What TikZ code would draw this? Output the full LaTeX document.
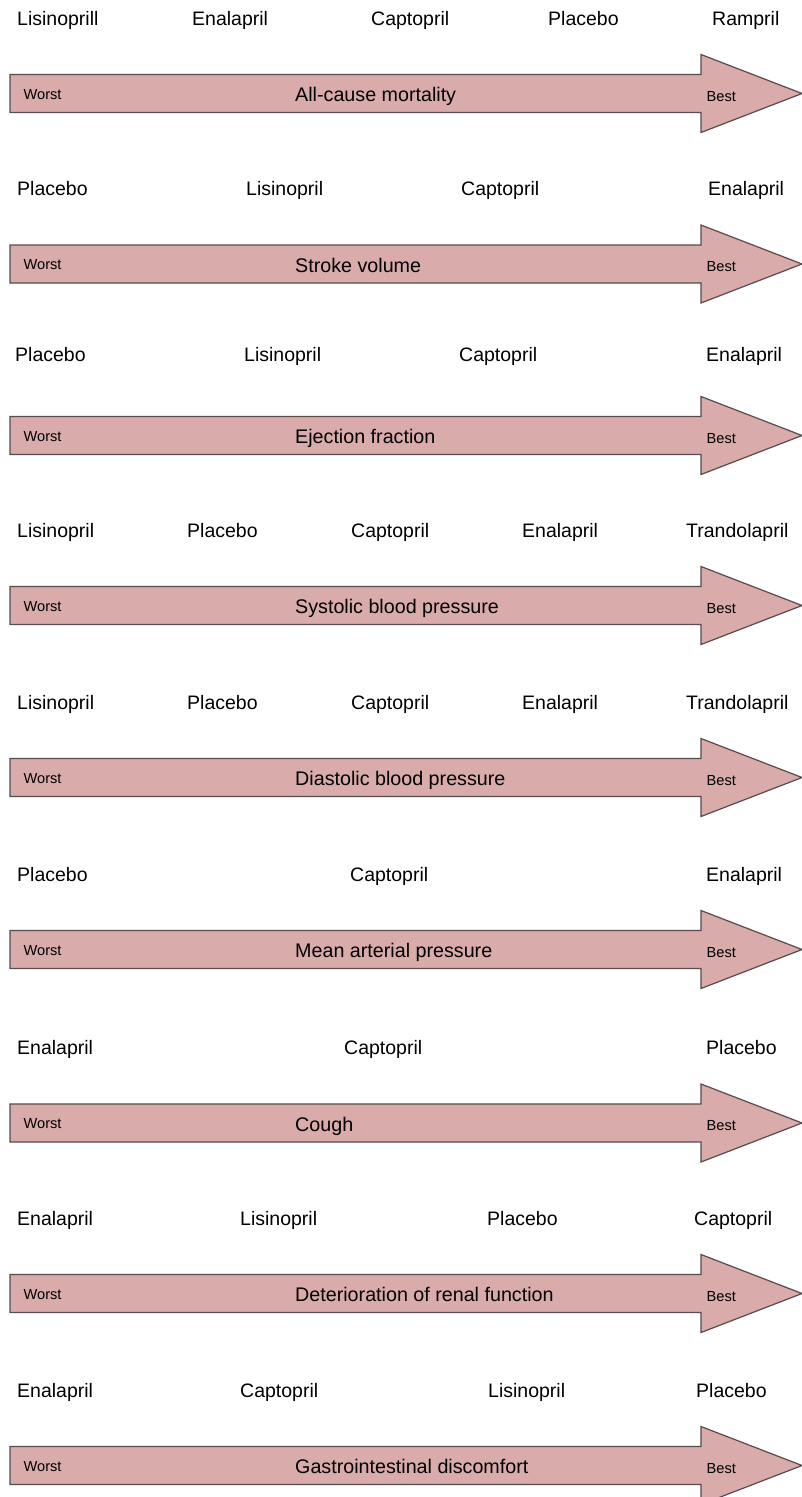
\documentclass[tikz,border=0pt]{standalone}
\usepackage{fontspec}
\setmainfont{Liberation Sans}
\definecolor{arrowfill}{HTML}{D9ABAB}
\definecolor{arrowline}{HTML}{574B4B}
\tikzset{
  drug/.style={inner sep=0pt, anchor=base west, font=\fontsize{19.5}{23}\selectfont},
  metric/.style={inner sep=0pt, anchor=base west, font=\fontsize{19.7}{23}\selectfont},
  endlabel/.style={inner sep=0pt, anchor=base west, font=\fontsize{14.6}{17}\selectfont},
  bigarrow/.style={fill=arrowfill, draw=arrowline, line width=1.2pt, line join=miter}
}
\newcommand{\rankarrow}[2]{%
  \draw[bigarrow] (10,#1-19) -- (701,#1-19) -- (701,#1-39) -- (802,#1) -- (701,#1+39) -- (701,#1+19) -- (10,#1+19) -- cycle;
  \node[endlabel] (worst#2) at (23.5,#1+5.8) {Worst};
  \node[endlabel] (best#2) at (706.5,#1+7.5) {Best};
}
\begin{document}
\begin{tikzpicture}[x=1pt,y=-1pt]
\useasboundingbox (0,0) rectangle (802,1497);
% row 1
\rankarrow{93.5}{a}
\node[metric] (ma) at (295,101.5) {All-cause mortality};
\node[drug] (a1) at (17,25.7) {Lisinoprill};
\node[drug] (a2) at (192,25.7) {Enalapril};
\node[drug] (a3) at (371,25.7) {Captopril};
\node[drug] (a4) at (548,25.7) {Placebo};
\node[drug] (a5) at (712,25.7) {Rampril};
% row 2
\rankarrow{264}{b}
\node[metric] (mb) at (295,272) {Stroke volume};
\node[drug] (b1) at (17,195.7) {Placebo};
\node[drug] (b2) at (246,195.7) {Lisinopril};
\node[drug] (b3) at (461,195.7) {Captopril};
\node[drug] (b4) at (708,195.7) {Enalapril};
% row 3
\rankarrow{435.5}{c}
\node[metric] (mc) at (295,443.5) {Ejection fraction};
\node[drug] (c1) at (15,361.7) {Placebo};
\node[drug] (c2) at (244,361.7) {Lisinopril};
\node[drug] (c3) at (459,361.7) {Captopril};
\node[drug] (c4) at (706,361.7) {Enalapril};
% row 4
\rankarrow{605.5}{d}
\node[metric] (md) at (295,613.5) {Systolic blood pressure};
\node[drug] (d1) at (17,537) {Lisinopril};
\node[drug] (d2) at (187,537) {Placebo};
\node[drug] (d3) at (351,537) {Captopril};
\node[drug] (d4) at (522,537) {Enalapril};
\node[drug] (d5) at (686,537) {Trandolapril};
% row 5
\rankarrow{777.5}{e}
\node[metric] (me) at (295,785.5) {Diastolic blood pressure};
\node[drug] (e1) at (17,709) {Lisinopril};
\node[drug] (e2) at (187,709) {Placebo};
\node[drug] (e3) at (351,709) {Captopril};
\node[drug] (e4) at (522,709) {Enalapril};
\node[drug] (e5) at (686,709) {Trandolapril};
% row 6
\rankarrow{949.5}{f}
\node[metric] (mf) at (295,957.5) {Mean arterial pressure};
\node[drug] (f1) at (17,881) {Placebo};
\node[drug] (f2) at (350,881) {Captopril};
\node[drug] (f3) at (706,881) {Enalapril};
% row 7
\rankarrow{1123}{g}
\node[metric] (mg) at (295,1131) {Cough};
\node[drug] (g1) at (17,1054.5) {Enalapril};
\node[drug] (g2) at (344,1054.5) {Captopril};
\node[drug] (g3) at (706,1054.5) {Placebo};
% row 8
\rankarrow{1293.5}{h}
\node[metric] (mh) at (295,1301.5) {Deterioration of renal function};
\node[drug] (h1) at (17,1225) {Enalapril};
\node[drug] (h2) at (240,1225) {Lisinopril};
\node[drug] (h3) at (487,1225) {Placebo};
\node[drug] (h4) at (694,1225) {Captopril};
% row 9
\rankarrow{1465.5}{i}
\node[metric] (mi) at (295,1473.5) {Gastrointestinal discomfort};
\node[drug] (i1) at (17,1397) {Enalapril};
\node[drug] (i2) at (240,1397) {Captopril};
\node[drug] (i3) at (488,1397) {Lisinopril};
\node[drug] (i4) at (696,1397) {Placebo};
\end{tikzpicture}
\end{document}
